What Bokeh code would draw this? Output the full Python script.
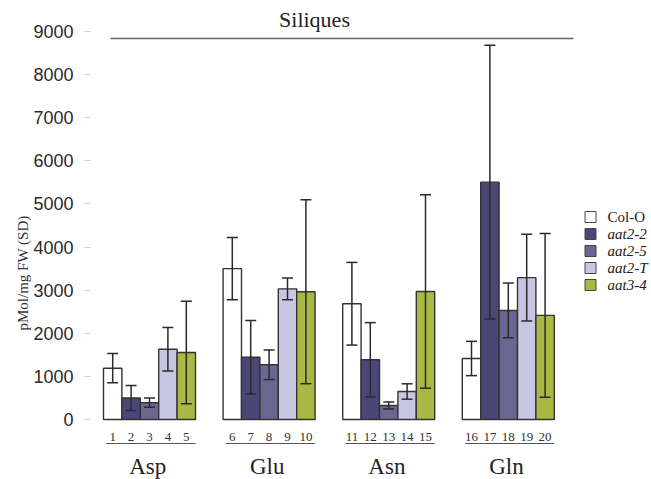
import math
from bokeh.plotting import figure
from bokeh.models import Range1d, ColumnDataSource, Title, FixedTicker
from bokeh.core.properties import value
from bokeh.embed import file_html
from bokeh.resources import INLINE

# ---------------- data ----------------
amino_acids = ["Asp", "Glu", "Asn", "Gln"]
genotypes = ["Col-O", "aat2-2", "aat2-5", "aat2-T", "aat3-4"]
genotype_styles = ["normal", "italic", "italic", "italic", "italic"]
bar_numbers = ["1", "2", "3", "4", "5", "6", "7", "8", "9", "10",
               "11", "12", "13", "14", "15", "16", "17", "18", "19", "20"]

# mean values (pMol/mg FW) per amino acid, in genotype order
asp_mean = [1190, 500, 390, 1630, 1555]
glu_mean = [3500, 1445, 1270, 3030, 2965]
asn_mean = [2685, 1385, 325, 650, 2970]
gln_mean = [1415, 5505, 2530, 3290, 2415]

# standard deviations
asp_sd = [340, 290, 108, 503, 1190]
glu_sd = [720, 851, 343, 252, 2135]
asn_sd = [959, 862, 81, 178, 2244]
gln_sd = [398, 3175, 635, 1005, 1900]

y_ticks = [0, 1000, 2000, 3000, 4000, 5000, 6000, 7000, 8000, 9000]

# ---------------- styling / layout ----------------
colors = ["#ffffff", "#4a4777", "#6a6893", "#c8c6e3", "#a9b843"]
SERIF = value("Liberation Serif")
SANS = "Liberation Sans"

W, H = 651, 479
LEFT = 90                      # frame left (canvas px)
BAR_PX = 18.4                  # pixels per bar width
GROUP_STEP = 6.5               # bars per group step (5 bars + gap)
ZERO_CANVAS = 419              # canvas y of value 0
PPU = 388.0 / 9000.0           # pixels per data unit (y)
X0_CANVAS = 103                # canvas x of first bar's left edge


def xpx(canvas_x):
    return (canvas_x - X0_CANVAS) / BAR_PX


def ypx(canvas_y):
    return (ZERO_CANVAS - canvas_y) / PPU


means = [asp_mean, glu_mean, asn_mean, gln_mean]
sds = [asp_sd, glu_sd, asn_sd, gln_sd]

xs, tops, sd_all, fills = [], [], [], []
for g in range(len(amino_acids)):
    for k in range(len(genotypes)):
        xs.append(g * GROUP_STEP + k + 0.5)
        tops.append(means[g][k])
        sd_all.append(sds[g][k])
        fills.append(colors[k])

src = ColumnDataSource(dict(
    x=xs, top=tops, lo=[t - s for t, s in zip(tops, sd_all)],
    hi=[t + s for t, s in zip(tops, sd_all)], fill=fills, num=bar_numbers,
))

p = figure(width=W, height=H, output_backend="svg", toolbar_location=None,
           x_range=Range1d(xpx(LEFT), xpx(W)),
           y_range=Range1d(ypx(H), ypx(0)),
           x_axis_location=None, min_border_left=LEFT, min_border_right=0,
           min_border_top=0, min_border_bottom=0)
p.outline_line_color = None
p.xgrid.visible = False
p.ygrid.visible = False
p.background_fill_color = "white"

ax = p.yaxis[0]
ax.ticker = FixedTicker(ticks=y_ticks)
ax.axis_line_color = None
ax.major_tick_in = 0
ax.major_tick_out = 6
ax.major_tick_line_color = "#d0d0d0"
ax.minor_tick_line_color = None
ax.major_label_standoff = 11
ax.major_label_text_font = SANS
ax.major_label_text_font_size = "18px"
ax.major_label_text_color = "#2a2a2a"

# bars
p.vbar(x="x", top="top", bottom=0, width=1.0, source=src,
       fill_color="fill", line_color="#333333", line_width=1.4)

# error bars
p.segment(x0="x", y0="lo", x1="x", y1="hi", source=src,
          line_color="#2a2a2a", line_width=1.5)
p.scatter(x="x", y="hi", source=src, marker="dash", size=11,
          line_color="#2a2a2a", line_width=1.5)
p.scatter(x="x", y="lo", source=src, marker="dash", size=11,
          line_color="#2a2a2a", line_width=1.5)

# bar numbers
p.text(x="x", y=ypx(436), text="num", source=src, text_font=SERIF,
       text_font_size="13px", text_align="center",
       text_baseline="middle", text_color="#333333")

# group underlines and group names
g_start = [g * GROUP_STEP for g in range(len(amino_acids))]
p.segment(x0=[s + 0.15 for s in g_start], x1=[s + 5.0 for s in g_start],
          y0=ypx(443), y1=ypx(443), line_color="#555555", line_width=1.2)
p.text(x=[s + 2.4 for s in g_start], y=ypx(466), text=amino_acids,
       text_font=SERIF, text_font_size="23px", text_align="center",
       text_baseline="middle", text_color="#222222")

# title and its line
p.text(x=[xpx(314)], y=[ypx(19)], text=["Siliques"], text_font=SERIF,
       text_font_size="22px", text_align="center",
       text_baseline="middle", text_color="#222222")
p.segment(x0=[xpx(110)], x1=[xpx(573)], y0=[ypx(38)], y1=[ypx(38)],
          line_color="#666666", line_width=1.3)

# legend
leg_y = [ypx(216.5 + 17 * i) for i in range(len(genotypes))]
p.scatter(x=[xpx(590)] * len(genotypes), y=leg_y, marker="square", size=11,
          fill_color=colors, line_color="#444444", line_width=1)
leg_src = ColumnDataSource(dict(x=[xpx(607)] * len(genotypes), y=leg_y,
                                t=genotypes, st=genotype_styles))
p.text(x="x", y="y", text="t", text_font_style="st", source=leg_src,
       text_font=SERIF, text_font_size="15px", text_baseline="middle",
       text_align="left", text_color="#222222")

# y axis label, placed as a side title in the left border
p.add_layout(Title(text="pMol/mg FW (SD)", align="left", offset=H - 330,
                   text_font="Liberation Serif", text_font_size="15px",
                   text_font_style="normal", text_color="#333333",
                   standoff=0), "left")

open("out.html", "w").write(file_html(p, INLINE))
